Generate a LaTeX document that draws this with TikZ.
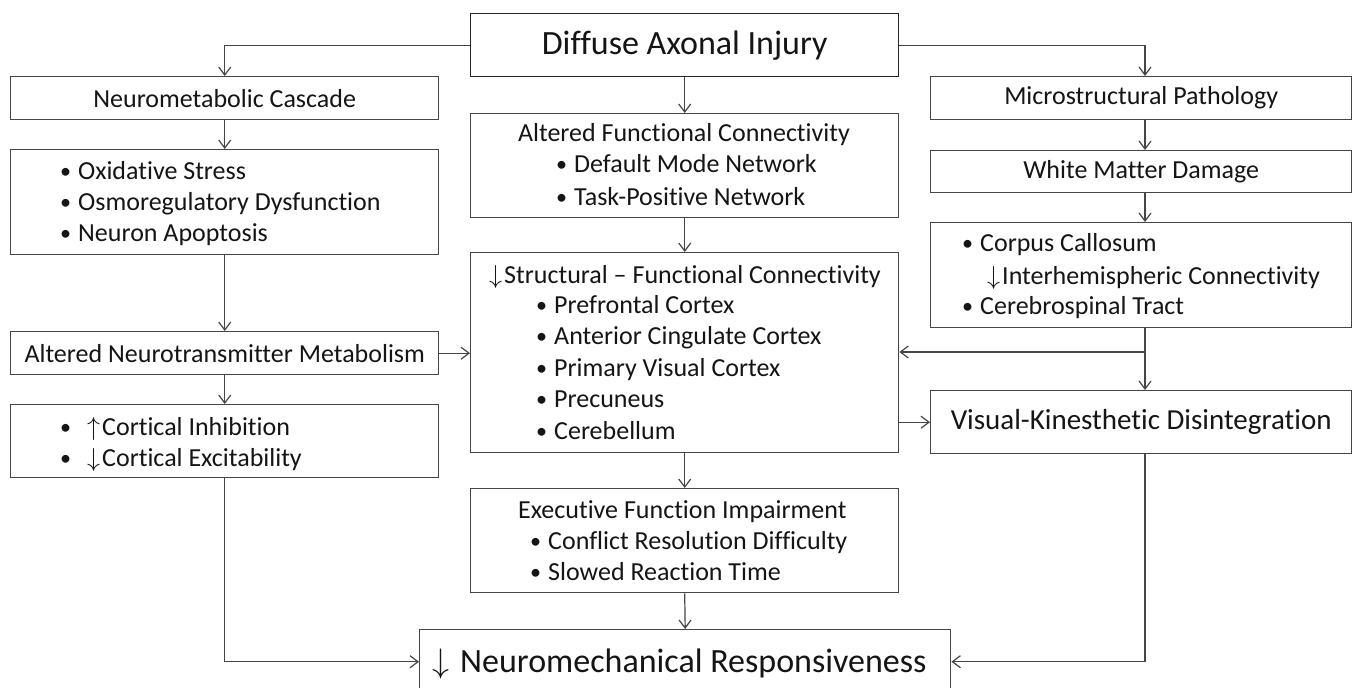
\documentclass[tikz,border=0pt]{standalone}
\usepackage{fix-cm}
\usepackage{fontspec}
\setmainfont{Carlito}[Ligatures=NoCommon]
\usetikzlibrary{arrows.meta}
\definecolor{linec}{HTML}{454545}
\definecolor{txtc}{HTML}{151515}
\tikzset{
  box/.style={draw=linec, line width=1.4pt, inner sep=0pt, anchor=north west, fill=white,
              text=txtc, font=\fontsize{26}{31}\selectfont},
  txt/.style={inner sep=0pt, anchor=base west, text=txtc, font=\fontsize{26}{31}\selectfont},
  arr/.style={draw=linec, line width=1.2pt, -{Straight Barb[length=8pt,width=12pt]}},
  lin/.style={draw=linec, line width=1.2pt}
}
\newcommand{\bul}{\makebox[18pt][l]{\raisebox{1pt}{\scalebox{0.85}{\textbullet}}}}
\newcommand{\dn}{\makebox[15pt][l]{$\downarrow$}}
\newcommand{\up}{\makebox[15pt][l]{$\uparrow$}}
\begin{document}
\begin{tikzpicture}[x=1pt,y=-1pt]
\useasboundingbox (0,0) rectangle (1353,688);
\clip (0,0) rectangle (1353,688);
\fill[white] (0,0) rectangle (1353,688);
\coordinate (rc) at (1145,0);
% boxes
\node[box, draw=black!85, minimum width=428pt, minimum height=63pt, font=\fontsize{34}{40}\selectfont] (dai) at (470,13) {Diffuse Axonal Injury};
\node[box, minimum width=428pt, minimum height=43pt] (neuro) at (10,76) {Neurometabolic Cascade};
\node[box, minimum width=421pt, minimum height=43pt] (micro) at (930,76) {Microstructural Pathology};
\node[box, minimum width=428pt, minimum height=104pt] (afc) at (470,113) {};
\node[box, minimum width=428pt, minimum height=105pt] (lbul) at (10,149) {};
\node[box, minimum width=421pt, minimum height=42pt] (wmd) at (930,150) {White Matter Damage};
\node[box, minimum width=421pt, minimum height=105pt] (rbul) at (930,222) {};
\node[box, minimum width=428pt, minimum height=200pt] (sfc) at (470,252) {};
\node[box, minimum width=428pt, minimum height=43pt] (anm) at (10,331) {Altered Neurotransmitter Metabolism};
\node[box, minimum width=428pt, minimum height=73pt] (lbot) at (10,404) {};
\node[box, minimum width=421pt, minimum height=63pt, font=\fontsize{29}{35}\selectfont] (vk) at (930,390) {Visual-Kinesthetic Disintegration};
\node[box, minimum width=428pt, minimum height=104pt] (exec) at (470,488) {};
\node[box, minimum width=531pt, minimum height=64pt] (nmr) at (419,629) {};
% texts
\node[txt] (l1) at (60,179) {\bul Oxidative Stress};
\node[txt] (l2) at (60,210) {\bul Osmoregulatory Dysfunction};
\node[txt] (l3) at (60,241) {\bul Neuron Apoptosis};
\node[txt, anchor=base] (a0) at (684,141) {Altered Functional Connectivity};
\node[txt] (a1) at (556,172) {\bul Default Mode Network};
\node[txt] (a2) at (556,205) {\bul Task-Positive Network};
\node[txt] (s0) at (489,283) {\dn Structural -- Functional Connectivity};
\node[txt] (s1) at (536,313) {\bul Prefrontal Cortex};
\node[txt] (s2) at (536,344.5) {\bul Anterior Cingulate Cortex};
\node[txt] (s3) at (536,376) {\bul Primary Visual Cortex};
\node[txt] (s4) at (536,407.5) {\bul Precuneus};
\node[txt] (s5) at (536,439) {\bul Cerebellum};
\node[txt] (e0) at (518,518) {Executive Function Impairment};
\node[txt] (e1) at (530,549) {\bul Conflict Resolution Difficulty};
\node[txt] (e2) at (530,580) {\bul Slowed Reaction Time};
\node[txt] (r1) at (962,251) {\bul Corpus Callosum};
\node[txt] (r2) at (987,284) {\dn Interhemispheric Connectivity};
\node[txt] (r3) at (962,314) {\bul Cerebrospinal Tract};
\node[txt] (b1) at (60,435) {\makebox[27pt][l]{\raisebox{1pt}{\scalebox{0.85}{\textbullet}}}\up Cortical Inhibition};
\node[txt] (b2) at (60,466) {\makebox[27pt][l]{\raisebox{1pt}{\scalebox{0.85}{\textbullet}}}\dn Cortical Excitability};
\node[txt, font=\fontsize{34}{40}\selectfont] (n0) at (432,672) {\makebox[28pt][l]{$\downarrow$}Neuromechanical Responsiveness};
% connectors
\draw[arr] (dai.west) -| (neuro.north);
\draw[arr] (dai.east) -| (micro.north -| rc);
\draw[arr] (dai.south) -- (afc.north);
\draw[arr] (neuro.south) -- (lbul.north);
\draw[arr] (lbul.south) -- (anm.north);
\draw[arr] (anm.south) -- (lbot.north);
\draw[arr] (anm.east) -- (anm.east -| sfc.west);
\draw[arr] (afc.south) -- (sfc.north);
\draw[arr] (sfc.south) -- (exec.north);
\draw[arr] (exec.south) -- (nmr.north);
\draw[arr] (micro.south -| rc) -- (wmd.north -| rc);
\draw[arr] (wmd.south -| rc) -- (rbul.north -| rc);
\draw[arr] (rbul.south -| rc) -- (vk.north -| rc);
\coordinate (j) at (1145,352);
\draw[arr] (j) -- (j -| sfc.east);
\draw[arr] (vk.west -| sfc.east) -- (vk.west);
\draw[arr] (lbot.south) |- (nmr.west);
\draw[arr] (vk.south -| rc) |- (nmr.east);
\end{tikzpicture}
\end{document}
